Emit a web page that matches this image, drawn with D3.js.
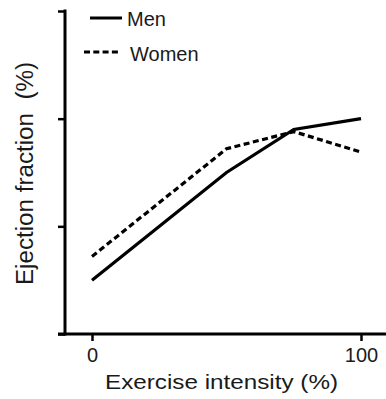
<!DOCTYPE html>
<html>
<head>
<meta charset="utf-8">
<script src="https://cdn.jsdelivr.net/npm/d3@7"></script>
<style>
  body { margin: 0; background: #fff; }
  text { font-family: "Liberation Sans", Arial, sans-serif; fill: #1a1a1a; }
</style>
</head>
<body>
<div id="chart"></div>
<script>
// exercise intensity (%) and ejection fraction (arbitrary units, axis unlabeled)
const intensity = [0, 50, 75, 100];
const menEF = [0.50, 1.50, 1.90, 2.00];
const womenEF = [0.72, 1.72, 1.88, 1.69];
const xTicks = [0, 100];
const yTicks = [0, 1, 2, 3];
const seriesNames = ["Men", "Women"];

const width = 386;
const height = 399;

const svg = d3
  .select("#chart")
  .append("svg")
  .attr("width", width)
  .attr("height", height);

// scales
const x = d3.scaleLinear().domain([0, 100]).range([92, 361]);
const y = d3.scaleLinear().domain([0, 3]).range([334, 11]);

// y axis (no labels, ticks only)
const yAxis = d3.axisLeft(y).tickValues(yTicks).tickSize(7).tickFormat("");
const gy = svg.append("g").attr("transform", "translate(65,0)").call(yAxis);
gy.select(".domain").remove();
gy.append("line")
  .attr("x1", 0).attr("x2", 0)
  .attr("y1", y(3) - 1.5).attr("y2", y(0) + 1.5)
  .attr("stroke", "#000").attr("stroke-width", 3);
gy.selectAll(".tick line").attr("stroke", "#000").attr("stroke-width", 2.5);

// x axis
const xAxis = d3.axisBottom(x).tickValues(xTicks).tickSize(7).tickPadding(7);
const gx = svg.append("g").attr("transform", `translate(0,${y(0)})`).call(xAxis);
gx.select(".domain").remove();
gx.append("line")
  .attr("x1", 58).attr("x2", width)
  .attr("y1", 0).attr("y2", 0)
  .attr("stroke", "#000").attr("stroke-width", 3);
gx.selectAll(".tick line").attr("stroke", "#000").attr("stroke-width", 2.5);
gx.selectAll(".tick text")
  .attr("font-size", 20)
  .attr("fill", "#1a1a1a")
  .style("font-family", "'Liberation Sans', Arial, sans-serif");

// lines
const line = d3
  .line()
  .x((d, i) => x(intensity[i]))
  .y((d) => y(d));

svg.append("path")
  .datum(womenEF)
  .attr("d", line)
  .attr("fill", "none")
  .attr("stroke", "#000")
  .attr("stroke-width", 3.2)
  .attr("stroke-dasharray", "6,3.5");

svg.append("path")
  .datum(menEF)
  .attr("d", line)
  .attr("fill", "none")
  .attr("stroke", "#000")
  .attr("stroke-width", 3.2);

// legend
const legend = svg.append("g");
legend.append("line")
  .attr("x1", 90).attr("x2", 122).attr("y1", 18).attr("y2", 18)
  .attr("stroke", "#000").attr("stroke-width", 3);
legend.append("text")
  .attr("x", 127).attr("y", 26)
  .attr("font-size", 20)
  .text(seriesNames[0]);
legend.append("line")
  .attr("x1", 84).attr("x2", 118).attr("y1", 52).attr("y2", 52)
  .attr("stroke", "#000").attr("stroke-width", 3)
  .attr("stroke-dasharray", "6,3.3");
legend.append("text")
  .attr("x", 130).attr("y", 61)
  .attr("font-size", 20)
  .text(seriesNames[1]);

// axis titles
svg.append("text")
  .attr("x", 105).attr("y", 389)
  .attr("font-size", 21)
  .attr("textLength", 233)
  .attr("lengthAdjust", "spacingAndGlyphs")
  .text("Exercise intensity (%)");

svg.append("text")
  .attr("transform", "translate(33,285) rotate(-90)")
  .attr("x", 0).attr("y", 0)
  .attr("font-size", 23)
  .attr("textLength", 223)
  .attr("lengthAdjust", "spacingAndGlyphs")
  .style("white-space", "pre")
  .text("Ejection fraction  (%)");
</script>
</body>
</html>
